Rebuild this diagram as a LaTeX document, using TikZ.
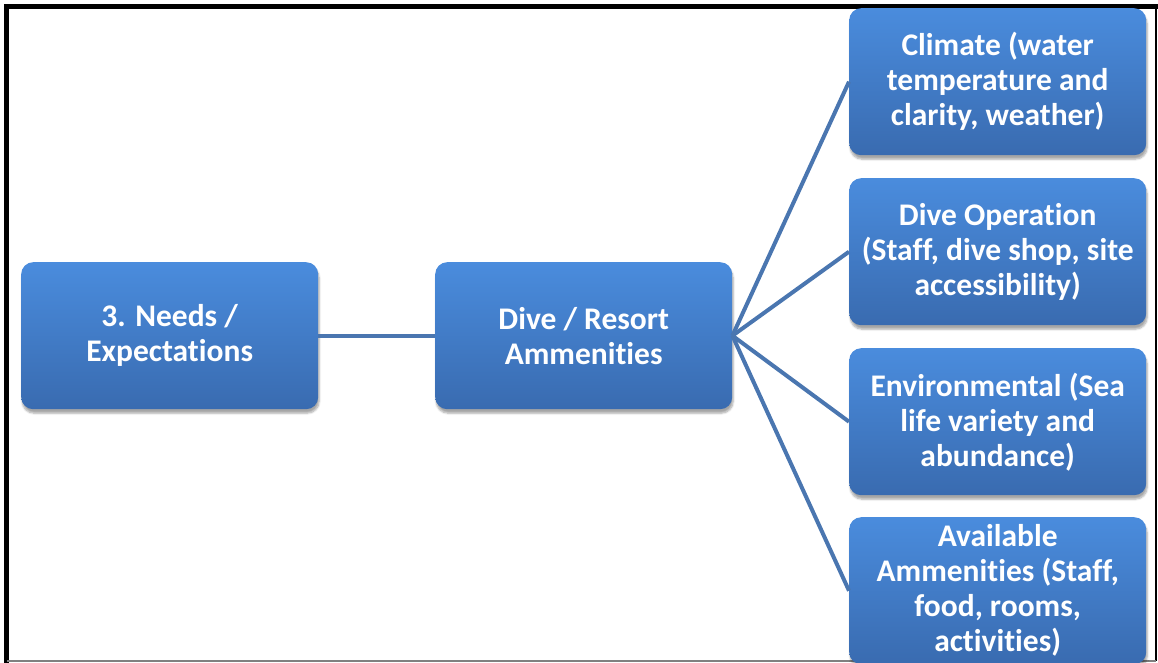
\documentclass[tikz,border=0pt]{standalone}
\usepackage{fontspec}
\setmainfont{Carlito}[RawFeature=-liga]
\usetikzlibrary{shadows.blur}
\definecolor{boxtop}{HTML}{4A8CDD}
\definecolor{boxbot}{HTML}{396BB0}
\definecolor{linkblue}{HTML}{4A76B0}
\begin{document}
\begin{tikzpicture}[x=1pt,y=-1pt,font=\bfseries\fontsize{31.5}{35}\selectfont,
		item/.style={anchor=north west,minimum width=297pt,minimum height=147pt,inner sep=0pt,rounded corners=12pt,align=center,text=white,top color=boxtop,bottom color=boxbot,blur shadow={shadow xshift=1pt,shadow yshift=-4pt,shadow opacity=35,shadow blur steps=6}},
		link/.style={draw=linkblue,line width=4pt}]
	\useasboundingbox (0,0) rectangle (1158,663);
	\draw[line width=5pt] (6.5,663)--(6.5,6.5)--(1158,6.5);
	\draw[line width=1.5pt] (1156,6.5)--(1156,661);
	\draw[line width=1.5pt,gray] (6.5,661)--(1156,661);
	\node[item] (needs) at (21,262) {3. Needs /\\Expectations};
	\node[item] (amen) at (435,262) {Dive / Resort\\Ammenities};
	\node[item] (clim) at (849,8) {Climate (water\\temperature and\\clarity, weather)};
	\node[item] (oper) at (849,178) {Dive Operation\\(Staff, dive shop, site\\accessibility)};
	\node[item] (envi) at (849,348) {Environmental (Sea\\life variety and\\abundance)};
	\node[item] (avail) at (849,517) {Available\\Ammenities (Staff,\\food, rooms,\\activities)};
	\draw[link] (needs.east)--(amen.west);
	\foreach \n in {clim,oper,envi,avail}
		\draw[link] (amen.east)--(\n.west);
\end{tikzpicture}
\end{document}
